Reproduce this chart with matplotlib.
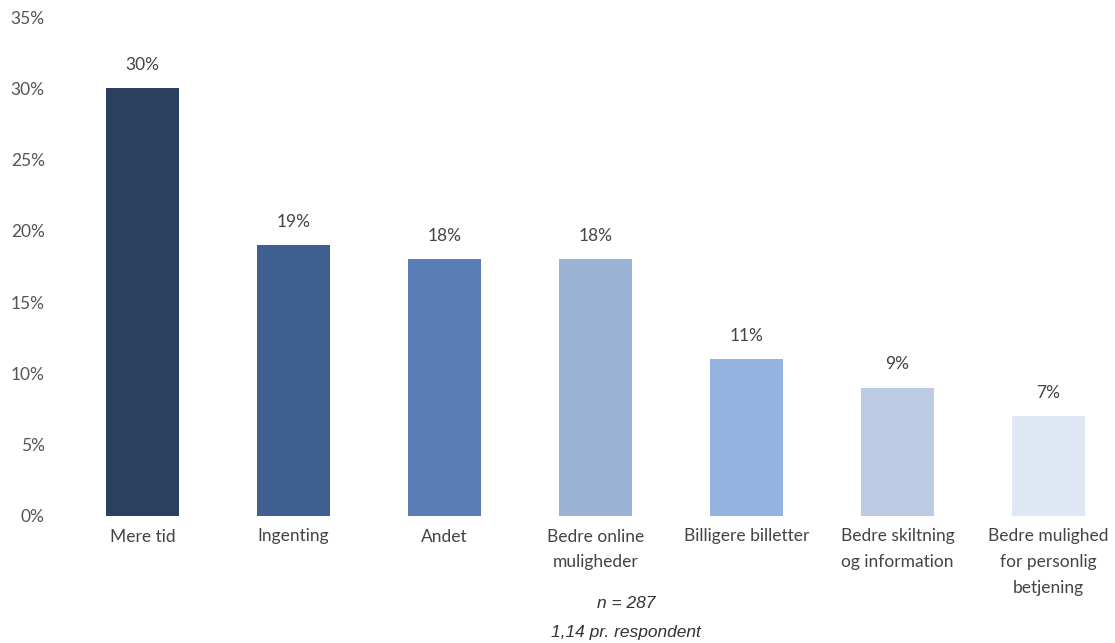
import matplotlib
matplotlib.use("Agg")
import matplotlib.pyplot as plt
from matplotlib.ticker import FuncFormatter

categories = [
    "Mere tid",
    "Ingenting",
    "Andet",
    "Bedre online\nmuligheder",
    "Billigere billetter",
    "Bedre skiltning\nog information",
    "Bedre mulighed\nfor personlig\nbetjening",
]
values = [30, 19, 18, 18, 11, 9, 7]
colors = ["#2b3f5e", "#3e5f8f", "#5a7db5", "#9ab3d5", "#94b3e0", "#bccbe3", "#dfe7f4"]
y_ticks = [0, 5, 10, 15, 20, 25, 30, 35]
footnote = ["n = 287", "1,14 pr. respondent"]

text_color = "#555555"
plt.rcParams["font.family"] = ["Lato", "DejaVu Sans"]

fig = plt.figure(figsize=(11.15, 6.43), dpi=100)
ax = fig.add_axes([67 / 1115, (643 - 516) / 643, 1 - 67 / 1115, (516 - 17) / 643])

x = list(range(len(categories)))
ax.bar(x, values, width=0.48, color=colors)

for xi, v in zip(x, values):
    ax.annotate(f"{v}%", (xi, v), xytext=(0, 11), textcoords="offset points",
                ha="center", va="bottom", fontsize=12.5, color="#444444")

ax.set_xlim(-0.5, 6.44)
ax.set_ylim(0, 35)
ax.set_yticks(y_ticks)
ax.yaxis.set_major_formatter(FuncFormatter(lambda v, p: f"{int(v)}%"))
ax.set_xticks(x)
ax.set_xticklabels(categories, linespacing=1.75)
ax.tick_params(axis="y", length=0, pad=16, labelsize=12.5, labelcolor=text_color)
ax.tick_params(axis="x", length=0, pad=9, labelsize=12.5, labelcolor="#444444")
for lbl in ax.get_xticklabels():
    lbl.set_verticalalignment("top")
for s in ax.spines.values():
    s.set_visible(False)

fig.text(626 / 1115, 1 - 604 / 643, footnote[0], ha="center", va="center",
         fontsize=12.5, style="italic", family="Liberation Sans", color="#333333")
fig.text(626 / 1115, 1 - 632 / 643, footnote[1], ha="center", va="center",
         fontsize=12.5, style="italic", family="Liberation Sans", color="#333333")

fig.savefig("out.png", dpi=100, facecolor="white")
